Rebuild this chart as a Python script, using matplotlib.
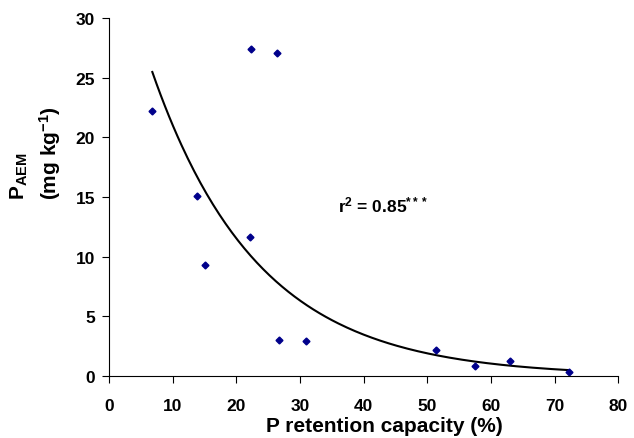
import numpy as np
import matplotlib
matplotlib.use("Agg")
import matplotlib.pyplot as plt

plt.rcParams["font.family"] = ["Liberation Sans", "DejaVu Sans"]
plt.rcParams["font.weight"] = "bold"
plt.rcParams["mathtext.fontset"] = "custom"
plt.rcParams["mathtext.rm"] = "Liberation Sans:bold"
plt.rcParams["mathtext.it"] = "Liberation Sans:bold"
plt.rcParams["mathtext.bf"] = "Liberation Sans:bold"

# P retention capacity (%) vs P_AEM (mg/kg)
p_retention = [6.8, 13.8, 15.1, 22.3, 22.2, 26.4, 26.7, 31.0, 51.3, 57.5, 63.0, 72.2]
p_aem = [22.2, 15.1, 9.3, 27.4, 11.65, 27.1, 3.0, 2.9, 2.2, 0.85, 1.25, 0.35]

# exponential fit y = a * exp(-b x)
fit_a = 38.3
fit_b = 0.060

fig = plt.figure(figsize=(6.34, 4.39), dpi=100)
ax = fig.add_axes([0.172, 0.141, 0.803, 0.816])

xs = np.linspace(min(p_retention), max(p_retention), 200)
ax.plot(xs, fit_a * np.exp(-fit_b * xs), color="black", lw=1.5)
ax.plot(p_retention, p_aem, linestyle="none", marker="D", markersize=3.5,
        color="#00008B")

ax.set_xlim(0, 80)
ax.set_ylim(0, 30)
ax.set_xticks(range(0, 81, 10))
ax.set_yticks(range(0, 31, 5))
ax.tick_params(direction="out", length=5, labelsize=12.5)
ax.tick_params(axis="x", pad=11)
ax.tick_params(axis="y", pad=5)
for lbl in ax.get_xticklabels() + ax.get_yticklabels():
    lbl.set_fontweight("bold")
ax.spines["top"].set_visible(False)
ax.spines["right"].set_visible(False)

fig.text(384 / 634, 1 - 427 / 439, "P retention capacity (%)", fontsize=15,
         fontweight="bold", ha="center", va="center")
fig.text(9 / 634, 1 - 200 / 439, "$\\mathrm{P_{AEM}}$\n(mg kg$^{-1}$)",
         fontsize=15, fontweight="bold", rotation=90, ha="left", va="bottom",
         multialignment="left", linespacing=1.35)

ax.text(36, 14.4, "r$^{2}$ = 0.85$^{***}$", fontsize=12.5, fontweight="bold",
        va="center")

fig.savefig("out.png", dpi=100)
